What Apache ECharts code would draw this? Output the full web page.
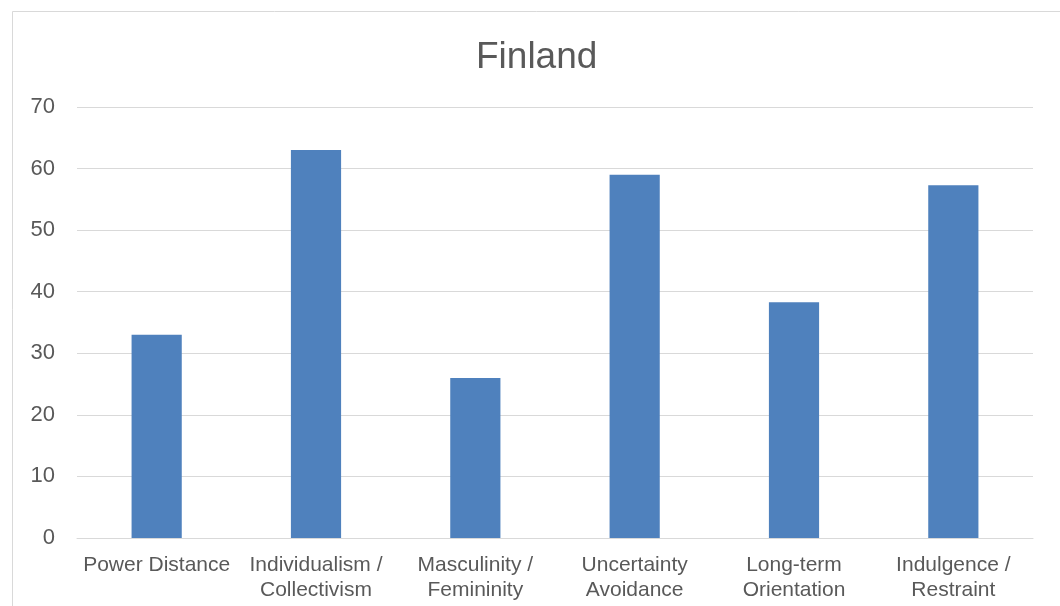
<!DOCTYPE html>
<html>
<head>
<meta charset="utf-8">
<script src="https://cdn.jsdelivr.net/npm/echarts@6/dist/echarts.min.js"></script>
<style>
  html, body { margin: 0; padding: 0; background: #ffffff; }
  #chart { width: 1060px; height: 606px; }
</style>
</head>
<body>
<div id="chart"></div>
<script>
// Hofstede cultural dimension scores for Finland
const categories = [
  'Power Distance',
  'Individualism /\nCollectivism',
  'Masculinity /\nFemininity',
  'Uncertainty\nAvoidance',
  'Long-term\nOrientation',
  'Indulgence /\nRestraint'
];
const scores = [33, 63, 26, 59, 38.3, 57.3];
const yTicks = { min: 0, max: 70, interval: 10 };

const chart = echarts.init(document.getElementById('chart'), null, { renderer: 'canvas' });

const textColor = '#595959';
const lineColor = '#d9d9d9';
const font = 'Liberation Sans, Arial, sans-serif';

chart.setOption({
  backgroundColor: '#ffffff',
  animation: false,
  graphic: [{
    type: 'rect',
    shape: { x: 12.5, y: 11.5, width: 1100, height: 700 },
    style: { fill: 'none', stroke: lineColor, lineWidth: 1 },
    silent: true,
    z: -1
  }],
  title: {
    text: 'Finland',
    left: 471,
    top: 34,
    textStyle: { color: textColor, fontSize: 37, fontWeight: 'normal', fontFamily: font }
  },
  grid: { left: 77, right: 27, top: 107, bottom: 68 },
  xAxis: {
    type: 'category',
    data: categories,
    axisLine: { show: true, lineStyle: { color: lineColor, width: 1 } },
    axisTick: { show: false },
    axisLabel: {
      color: textColor, fontSize: 21, fontFamily: font,
      lineHeight: 25, margin: 15, interval: 0
    },
    splitLine: { show: false }
  },
  yAxis: {
    type: 'value',
    min: yTicks.min,
    max: yTicks.max,
    interval: yTicks.interval,
    axisLine: { show: false },
    axisTick: { show: false },
    axisLabel: { color: textColor, fontSize: 22, fontFamily: font, margin: 22 },
    splitLine: { show: true, lineStyle: { color: lineColor, width: 1 } }
  },
  series: [{
    type: 'bar',
    data: scores,
    barWidth: '31.5%',
    itemStyle: { color: '#4f81bd' }
  }]
});
</script>
</body>
</html>
